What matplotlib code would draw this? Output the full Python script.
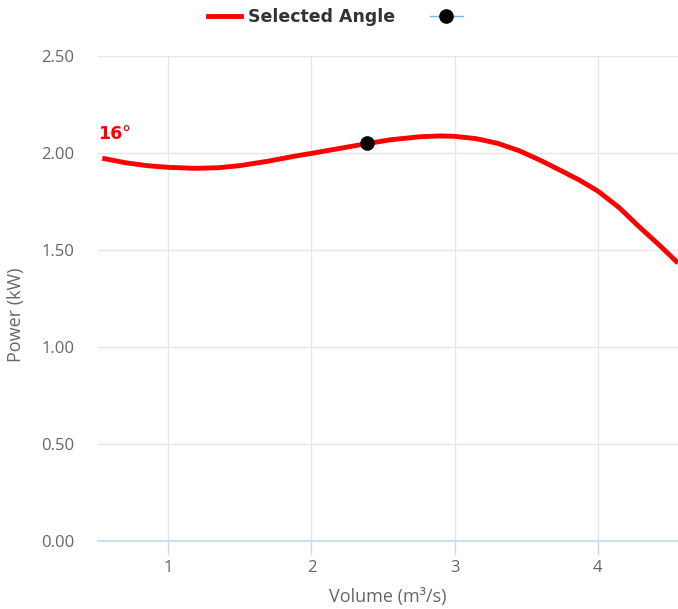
import matplotlib
matplotlib.use("Agg")
import matplotlib.pyplot as plt
from matplotlib.lines import Line2D

# Data
volume = [0.54, 0.7, 0.85, 1.0, 1.19, 1.35, 1.5, 1.7, 1.886, 2.0, 2.2, 2.387, 2.55, 2.76, 2.9, 3.0,
          3.15, 3.3, 3.45, 3.6, 3.735, 3.87, 4.0, 4.15, 4.29, 4.43, 4.56]
power = [1.973, 1.950, 1.935, 1.926, 1.921, 1.924, 1.935, 1.958, 1.984, 1.998, 2.024, 2.048, 2.068, 2.084,
         2.088, 2.086, 2.074, 2.050, 2.012, 1.962, 1.912, 1.861, 1.804, 1.718, 1.619, 1.525, 1.433]
selected_x = [2.39]
selected_y = [2.05]
angle_label = "16°"
series_name = "Selected Angle"
y_ticks = [0.0, 0.5, 1.0, 1.5, 2.0, 2.5]
x_ticks = [1, 2, 3, 4]

plt.rcParams['font.family'] = ['Open Sans', 'DejaVu Sans']

fig = plt.figure(figsize=(6.78, 6.09), dpi=100)
W, H = 678, 609
ax = fig.add_axes([98 / W, (H - 541) / H, (678 - 98) / W, (541 - 56) / H])

ax.plot(volume, power, color='#ff0000', lw=3.5, solid_capstyle='butt', solid_joinstyle='round', zorder=3)
ax.plot(selected_x, selected_y, 'o', color='black', ms=9.5, zorder=4)
ax.annotate(angle_label, (volume[0], power[0]), xytext=(-3, 11), textcoords='offset points',
            color='#ff0000', fontsize=12.5, fontweight='bold', ha='left', va='bottom',
            family=['DejaVu Sans'])

ax.set_xlim(0.51, 4.56)
ax.set_ylim(0, 2.5)
ax.set_yticks(y_ticks)
ax.set_yticklabels([f"{v:.2f}" for v in y_ticks])
ax.set_xticks(x_ticks)
ax.set_xticklabels([str(v) for v in x_ticks])

ax.grid(True, color='#e6e6e6', lw=1, zorder=0)
ax.set_axisbelow(True)
for s in ['top', 'right', 'left']:
    ax.spines[s].set_visible(False)
ax.spines['bottom'].set_color('#ccd6eb')
ax.spines['bottom'].set_linewidth(1.2)
ax.tick_params(axis='y', length=0, pad=17, labelsize=12, labelcolor='#666666')
ax.tick_params(axis='x', length=10, width=1, color='#ccd6eb', pad=4, labelsize=12, labelcolor='#666666')

ax.set_xlabel("Volume (m³/s)", fontsize=13, color='#666666', labelpad=8)
ylab = ax.set_ylabel("Power (kW)", fontsize=13, color='#666666')
ax.yaxis.set_label_coords((16 - 98) / (678 - 98), (541 - 315) / (541 - 56))
ylab.set_ha('center')
ylab.set_va('center')

handles = [Line2D([], [], color='#ff0000', lw=3.5),
           Line2D([], [], color='#7cb5ec', lw=1, marker='o', markersize=9.5,
                  markerfacecolor='black', markeredgecolor='black')]
leg = fig.legend(handles, [series_name, ""], loc='center', bbox_to_anchor=(0.5, 1 - 17 / H),
                 ncol=2, frameon=False, handlelength=1.9, handletextpad=0.4, columnspacing=2.0,
                 prop={'size': 12.5, 'weight': 'bold', 'family': 'DejaVu Sans'})
for t in leg.get_texts():
    t.set_color('#333333')

fig.savefig("out.png", dpi=100)
